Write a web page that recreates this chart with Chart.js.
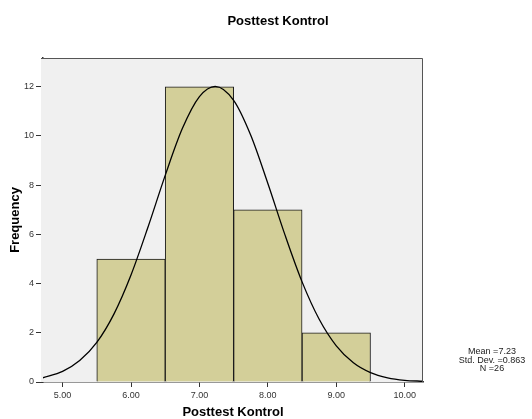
<!DOCTYPE html>
<html>
<head>
<meta charset="utf-8">
<script src="https://cdn.jsdelivr.net/npm/chart.js@4"></script>
<style>
    body { margin: 0; background: #fff; }
    #wrap { width: 532px; height: 419px; }
</style>
</head>
<body>
<div id="wrap"><canvas id="histChart" width="532" height="419"></canvas></div>
<script>
// histogram bins (bin centres) and counts
const binCenters = [6, 7, 8, 9];
const binCounts = [5, 12, 7, 2];

// normal curve
const curveX = [4.71, 5.0, 5.25, 5.5, 5.75, 6.0, 6.25, 6.5, 6.75, 7.0, 7.23, 7.5, 7.75, 8.0, 8.25, 8.5, 8.75, 9.0, 9.25, 9.5, 9.75, 10.0, 10.27];
const curveY = [0.17, 0.43, 0.87, 1.61, 2.76, 4.35, 6.31, 8.40, 10.30, 11.60, 12.02, 11.45, 10.03, 8.07, 5.98, 4.07, 2.55, 1.47, 0.78, 0.38, 0.17, 0.07, 0.03];

const xTicks = [5, 6, 7, 8, 9, 10];
const yTicks = [0, 2, 4, 6, 8, 10, 12];

const statsLines = ['Mean =7.23', 'Std. Dev. =0.863', 'N =26'];
const chartTitle = 'Posttest Kontrol';

const FONT = '"Liberation Sans", Arial, sans-serif';

// grey plot background + frame, title and stats box
const plotFrame = {
    id: 'plotFrame',
    beforeDatasetsDraw(chart) {
        const { ctx, chartArea: a } = chart;
        ctx.save();
        ctx.fillStyle = '#f0f0f0';
        ctx.fillRect(a.left - 2, a.top, a.right - a.left + 2, a.bottom - a.top);
        ctx.restore();
    },
    afterDraw(chart) {
        const { ctx, chartArea: a } = chart;
        ctx.save();
        ctx.strokeStyle = '#555';
        ctx.lineWidth = 1;
        ctx.beginPath();
        ctx.moveTo(a.left - 2, a.top + 0.5);
        ctx.lineTo(a.right - 0.5, a.top + 0.5);
        ctx.lineTo(a.right - 0.5, a.bottom);
        ctx.stroke();

        ctx.fillStyle = '#000';
        ctx.font = 'bold 13px ' + FONT;
        ctx.textAlign = 'center';
        ctx.textBaseline = 'middle';
        ctx.fillText(chartTitle, 278, 21);

        ctx.fillStyle = '#222';
        ctx.font = '9px ' + FONT;
        statsLines.forEach((t, i) => ctx.fillText(t, 492, 352 + i * 8.5));
        ctx.restore();
    }
};

const ctx = document.getElementById('histChart').getContext('2d');

new Chart(ctx, {
    data: {
        datasets: [{
            type: 'line',
            data: curveX.map((x, i) => ({ x: x, y: curveY[i] })),
            borderColor: '#000',
            borderWidth: 1.3,
            pointRadius: 0,
            cubicInterpolationMode: 'monotone',
            order: 0
        }, {
            type: 'bar',
            data: binCenters.map((x, i) => ({ x: x, y: binCounts[i] })),
            backgroundColor: '#d3cf99',
            borderColor: '#1a1a1a',
            borderWidth: 1,
            barPercentage: 1,
            categoryPercentage: 1,
            order: 1
        }]
    },
    options: {
        responsive: false,
        animation: false,
        layout: { padding: { left: 0, right: 109, top: 58, bottom: 0 } },
        plugins: {
            legend: { display: false },
            tooltip: { enabled: false }
        },
        scales: {
            x: {
                type: 'linear',
                offset: false,
                min: 4.714,
                max: 10.267,
                afterBuildTicks: scale => { scale.ticks = xTicks.map(v => ({ value: v })); },
                afterFit: scale => { scale.height = 37; },
                grid: { offset: false, drawOnChartArea: false, tickLength: 5, tickColor: '#333', tickWidth: 1 },
                border: { color: '#333', width: 1.5 },
                ticks: {
                    color: '#333',
                    padding: 3,
                    maxRotation: 0,
                    font: { family: FONT, size: 9 },
                    callback: v => v.toFixed(2)
                },
                title: {
                    display: true,
                    text: 'Posttest Kontrol',
                    color: '#000',
                    padding: 0,
                    font: { family: FONT, size: 13, weight: 'bold', lineHeight: 1 }
                }
            },
            y: {
                min: 0,
                max: 13.17,
                afterBuildTicks: scale => { scale.ticks = yTicks.map(v => ({ value: v })); },
                afterFit: scale => { scale.width = 43; },
                grid: { drawOnChartArea: false, tickLength: 7, tickColor: '#333', tickWidth: 1 },
                border: { color: '#333', width: 1.5 },
                ticks: {
                    color: '#333',
                    padding: 2,
                    font: { family: FONT, size: 9 }
                },
                title: {
                    display: true,
                    text: 'Frequency',
                    color: '#000',
                    padding: { top: 9, bottom: 0 },
                    font: { family: FONT, size: 13, weight: 'bold', lineHeight: 1 }
                }
            }
        }
    },
    plugins: [plotFrame]
});
</script>
</body>
</html>
